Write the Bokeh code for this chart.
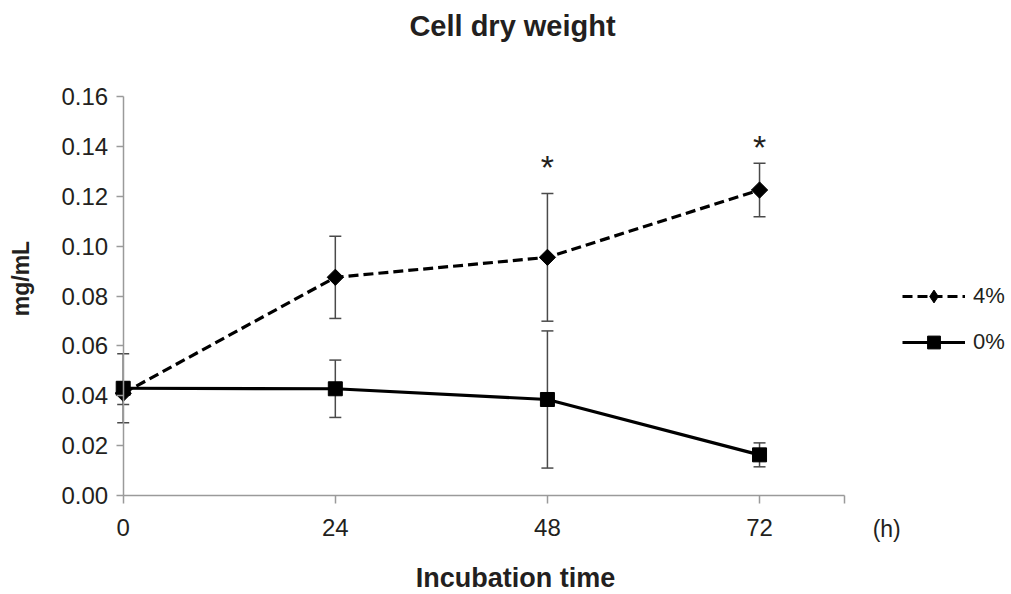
import math
from bokeh.plotting import figure
from bokeh.models import (ColumnDataSource, Range1d, FixedTicker, Whisker, TeeHead,
                          Legend, LegendItem, Label, NumeralTickFormatter)
from bokeh.core.properties import value
from bokeh.embed import file_html
from bokeh.resources import INLINE

# Cell dry weight (mg/mL) over incubation time, mean and error
hours = [0, 24, 48, 72]
wt_4pct = [0.041, 0.0875, 0.0955, 0.1225]
err_4pct = [0.0045, 0.0165, 0.0256, 0.0107]
wt_0pct = [0.043, 0.0428, 0.0385, 0.0163]
err_0pct = [0.0138, 0.0115, 0.0275, 0.0048]

# significance marks
sig_hours = [48, 72]
sig_y = [0.1317, 0.1397]

x_ticks = [0, 24, 48, 72]
x_end = 81.65
y_ticks = [0.00, 0.02, 0.04, 0.06, 0.08, 0.10, 0.12, 0.14, 0.16]
y_end = 0.16

FONT = "Liberation Sans"
TEXT = "#231f20"
AXIS = "#9a9a9a"

# the data frame spans the whole canvas; axes are pinned at zero
p = figure(width=1011, height=594, output_backend="svg", toolbar_location=None,
           x_range=Range1d(-13.884, 100.51), y_range=Range1d(-0.0397, 0.1985),
           min_border=0)
p.outline_line_color = None
p.xgrid.visible = False
p.ygrid.visible = False
p.background_fill_color = "white"

p.xaxis.fixed_location = 0
p.yaxis.fixed_location = 0
p.xaxis.bounds = (0, x_end)
p.yaxis.bounds = (0, y_end)
p.xaxis.ticker = FixedTicker(ticks=x_ticks + [x_end])
p.xaxis.major_label_overrides = {x_end: ""}
p.yaxis.ticker = FixedTicker(ticks=y_ticks)
p.yaxis.formatter = NumeralTickFormatter(format="0.00")
for ax in (p.xaxis, p.yaxis):
    ax.axis_line_color = AXIS
    ax.axis_line_width = 1.5
    ax.major_tick_line_color = AXIS
    ax.major_tick_line_width = 1.5
    ax.major_tick_in = 0
    ax.minor_tick_line_color = None
    ax.major_label_text_font = FONT
    ax.major_label_text_font_size = "24px"
    ax.major_label_text_color = TEXT
p.xaxis.major_tick_out = 8
p.yaxis.major_tick_out = 7
p.xaxis.major_label_standoff = 15
p.yaxis.major_label_standoff = 8

src4 = ColumnDataSource(dict(x=hours, y=wt_4pct,
                             lo=[v - e for v, e in zip(wt_4pct, err_4pct)],
                             hi=[v + e for v, e in zip(wt_4pct, err_4pct)]))
src0 = ColumnDataSource(dict(x=hours, y=wt_0pct,
                             lo=[v - e for v, e in zip(wt_0pct, err_0pct)],
                             hi=[v + e for v, e in zip(wt_0pct, err_0pct)]))

# error bars
for src in (src4, src0):
    w = Whisker(source=src, base="x", upper="hi", lower="lo",
                line_color="#4a4a4a", line_width=1.5,
                upper_head=TeeHead(size=12, line_color="#4a4a4a", line_width=1.5),
                lower_head=TeeHead(size=12, line_color="#4a4a4a", line_width=1.5))
    p.add_layout(w)

l4 = p.line("x", "y", source=src4, line_color="black", line_width=3.2, line_dash="10 5")
# diamond key for the legend (legend keys are drawn unrotated); it sits under the
# rotated squares below
key4 = p.scatter("x", "y", source=src4, marker="diamond", size=13,
                 fill_color="black", line_color="black")
m4 = p.scatter("x", "y", source=src4, marker="square", angle=math.pi / 4, size=11.5,
               fill_color="black", line_color="black")
l0 = p.line("x", "y", source=src0, line_color="black", line_width=3.2)
m0 = p.scatter("x", "y", source=src0, marker="square", size=14,
               fill_color="black", line_color="black")

# asterisks marking significant differences
p.text(x=sig_hours, y=sig_y, text=["*", "*"], text_font=value(FONT),
       text_font_size="34px", text_color=TEXT, text_align="center",
       text_baseline="middle")

legend = Legend(items=[LegendItem(label="4%", renderers=[l4, key4]),
                       LegendItem(label="0%", renderers=[l0, m0])],
                location=(902, 236), orientation="vertical",
                glyph_width=63, glyph_height=32, label_height=32, spacing=14,
                label_standoff=8, padding=0, margin=0,
                border_line_color=None, background_fill_alpha=0,
                label_text_font=FONT, label_text_font_size="22px",
                label_text_color=TEXT)
p.add_layout(legend)

# titles and axis captions
p.add_layout(Label(x=44.05, y=0.1881, text="Cell dry weight", text_font=FONT,
                   text_font_size="29px", text_font_style="bold", text_color=TEXT,
                   text_align="center", text_baseline="middle"))
p.add_layout(Label(x=44.4, y=-0.0332, text="Incubation time", text_font=FONT,
                   text_font_size="27px", text_font_style="bold", text_color=TEXT,
                   text_align="center", text_baseline="middle"))
p.add_layout(Label(x=-11.62, y=0.087, text="mg/mL", text_font=FONT,
                   text_font_size="23px", text_font_style="bold", text_color=TEXT,
                   text_align="center", text_baseline="middle", angle=math.pi / 2))
p.add_layout(Label(x=84.8, y=-0.0136, text="(h)", text_font=FONT,
                   text_font_size="23px", text_color=TEXT,
                   text_align="left", text_baseline="middle"))

open("out.html", "w").write(file_html(p, INLINE))
